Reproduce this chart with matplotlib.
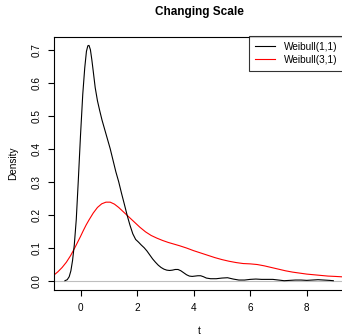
import matplotlib
matplotlib.use("Agg")
import matplotlib.pyplot as plt
from matplotlib.lines import Line2D

plt.rcParams['font.family'] = ['Liberation Sans', 'DejaVu Sans']

title = "Changing Scale"
xlabel = "t"
ylabel = "Density"
labels = ["Weibull(1,1)", "Weibull(3,1)"]
colors = ["black", "red"]

x_ticks = [0, 2, 4, 6, 8]
y_ticks = [0.0, 0.1, 0.2, 0.3, 0.4, 0.5, 0.6, 0.7]
y_ticklabels = ["0.0", "0.1", "0.2", "0.3", "0.4", "0.5", "0.6", "0.7"]

black_x = [-0.55, -0.47, -0.40, -0.34, -0.28, -0.22, -0.15, -0.08, 0.00, 0.08, 0.15, 0.21, 0.26, 0.30,
           0.35, 0.40, 0.45, 0.52, 0.60, 0.68, 0.76, 0.85, 0.95, 1.05, 1.15, 1.25, 1.35, 1.45, 1.55,
           1.65, 1.75, 1.85, 1.95, 2.05, 2.15, 2.25, 2.35, 2.45, 2.55, 2.65, 2.75, 2.85, 2.95, 3.05,
           3.15, 3.25, 3.35, 3.45, 3.55, 3.65, 3.75, 3.85, 3.95, 4.05, 4.15, 4.25, 4.35, 4.45, 4.6,
           4.8, 5.0, 5.2, 5.4, 5.6, 5.8, 6.0, 6.2, 6.4, 6.6, 6.8, 7.0, 7.2, 7.4, 7.6, 7.8, 8.0, 8.2,
           8.4, 8.6, 8.8, 8.94]
black_y = [0.000, 0.003, 0.012, 0.030, 0.062, 0.108, 0.185, 0.300, 0.440, 0.565, 0.645, 0.695, 0.712,
           0.713, 0.70, 0.67, 0.635, 0.585, 0.545, 0.515, 0.487, 0.46, 0.43, 0.40, 0.365, 0.33, 0.30,
           0.265, 0.232, 0.198, 0.168, 0.142, 0.125, 0.117, 0.108, 0.100, 0.090, 0.078, 0.066, 0.056,
           0.047, 0.040, 0.035, 0.032, 0.031, 0.032, 0.034, 0.034, 0.030, 0.024, 0.018, 0.014, 0.013,
           0.014, 0.015, 0.015, 0.012, 0.008, 0.006, 0.006, 0.008, 0.009, 0.005, 0.002, 0.002, 0.004,
           0.005, 0.004, 0.004, 0.004, 0.002, 0.000, 0.001, 0.002, 0.002, 0.001, 0.002, 0.003, 0.002,
           0.001, 0.000]

red_x = [-0.94, -0.8, -0.65, -0.5, -0.35, -0.2, -0.1, 0.0, 0.1, 0.2, 0.3, 0.45, 0.6, 0.75, 0.9, 1.05,
         1.2, 1.35, 1.5, 1.65, 1.85, 2.1, 2.3, 2.5, 2.7, 2.9, 3.1, 3.3, 3.5, 3.75, 4.0, 4.25, 4.5,
         4.75, 5.0, 5.25, 5.5, 5.75, 6.0, 6.25, 6.5, 6.75, 7.0, 7.25, 7.5, 7.75, 8.0, 8.25, 8.5, 8.75,
         9.0, 9.4]
red_y = [0.017, 0.027, 0.040, 0.056, 0.076, 0.100, 0.117, 0.134, 0.152, 0.169, 0.184, 0.205, 0.222,
         0.233, 0.238, 0.238, 0.232, 0.222, 0.210, 0.198, 0.182, 0.162, 0.148, 0.137, 0.129, 0.122,
         0.116, 0.111, 0.106, 0.099, 0.091, 0.084, 0.077, 0.070, 0.064, 0.059, 0.055, 0.052, 0.051,
         0.049, 0.045, 0.040, 0.035, 0.030, 0.026, 0.023, 0.020, 0.018, 0.016, 0.014, 0.013, 0.011]

W, H = 342, 335
fig = plt.figure(figsize=(W / 100, H / 100), dpi=100)
l, r, t, b = 54, 346, 37, 289.5
x0px, xscale = 80.5, 28.28
y0px, yscale = 280.7, 330.0
ax = fig.add_axes([l / W, 1 - b / H, (r - l) / W, (b - t) / H])
ax.set_xlim((l - x0px) / xscale, (r - x0px) / xscale)
ax.set_ylim((y0px - b) / yscale, (y0px - t) / yscale)

lw = 0.8
ax.axhline(0, color="#bebebe", lw=lw, zorder=1)
ax.plot(black_x, black_y, color=colors[0], lw=lw, zorder=3)
ax.plot(red_x, red_y, color=colors[1], lw=lw, zorder=2)

for s in ax.spines.values():
    s.set_linewidth(lw)
    s.set_color("black")

ax.set_xticks(x_ticks)
ax.set_xticklabels([str(v) for v in x_ticks])
ax.set_yticks(y_ticks)
ax.set_yticklabels(y_ticklabels, rotation=90, va="center")
ax.tick_params(axis="both", length=4.5, width=lw, labelsize=7.2, direction="out", color="black")
ax.tick_params(axis="x", pad=5)
ax.tick_params(axis="y", pad=4.5)

fig.text(199 / W, 1 - 12.5 / H, title, ha="center", va="center", fontsize=8.5, fontweight="bold")
fig.text(199 / W, 1 - 330.5 / H, xlabel, ha="center", va="center", fontsize=7.2)
fig.text(13 / W, 1 - 163 / H, ylabel, ha="center", va="center", fontsize=7.2, rotation=90)

handles = [Line2D([], [], color=c, lw=lw) for c in colors]
leg = fig.legend(handles, labels, loc="upper left", bbox_to_anchor=(249.3 / W, 1 - 35.5 / H),
                 fontsize=7.2, frameon=True, fancybox=False, handlelength=2.0, handletextpad=0.85,
                 borderpad=0.6, labelspacing=0.32, borderaxespad=0)
leg.get_frame().set_edgecolor("black")
leg.get_frame().set_linewidth(lw)

fig.savefig("out.png", dpi=100)
